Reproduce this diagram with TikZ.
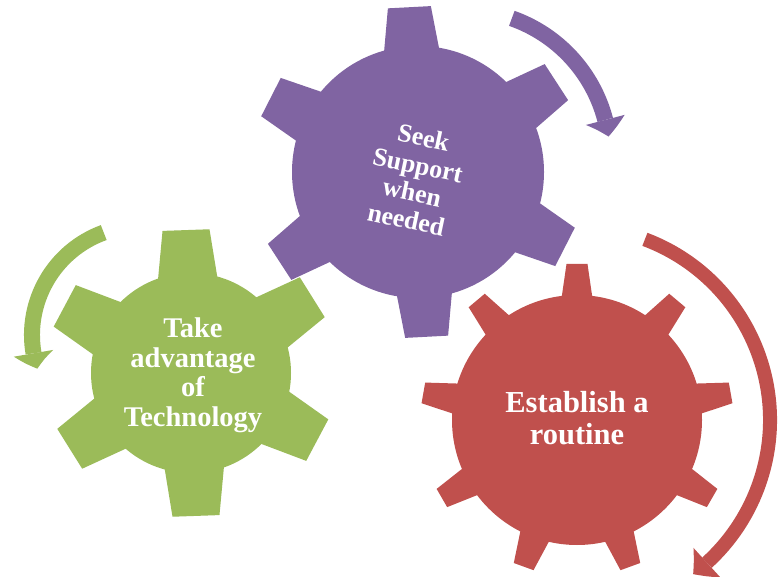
\documentclass[tikz,border=0pt]{standalone}
\usepackage{fontspec}
\setmainfont{Liberation Serif}
\usetikzlibrary{arrows.meta,bending}
\definecolor{gpurple}{HTML}{8064A2}
\definecolor{ggreen}{HTML}{9BBB59}
\definecolor{gred}{HTML}{C0504D}
% #1,#2 centre; #3 body radius; #4 tip radius; #5 teeth; #6 first angle; #7 base half width; #8 tip half width; #9 colour
\newcommand{\gearfill}[9]{%
\begin{scope}[shift={(#1,#2)}]
\fill[#9] (0,0) circle[radius=#3pt];
\foreach \k in {1,...,#5}{
\fill[#9, rotate={#6+360/#5*\k}]
 ({#3-15},{-(#7+(#7-#8)*15/(#4-#3))}) -- (#4,-#8) -- (#4,#8) --
 ({#3-15},{#7+(#7-#8)*15/(#4-#3)}) -- cycle;
}
\end{scope}}
\tikzset{
  geartext/.style={text=white, align=center, inner sep=0pt},
  turnarrow/.style={line cap=butt}
}
\begin{document}
\begin{tikzpicture}[x=1pt,y=1pt]
\useasboundingbox (0,0) rectangle (779,576);
\clip (0,0) rectangle (779,576);
\fill[white] (0,0) rectangle (779,576);

% gears
\gearfill{418}{404}{126}{165}{6}{93}{27}{21.5}{gpurple}
\gearfill{191}{203}{100}{143}{6}{92}{29}{23.5}{ggreen}
\gearfill{577}{156}{125}{156}{9}{90}{15}{10.5}{gred}

% rotation arrows
\draw[turnarrow, gpurple, line width=16pt,
  -{Triangle[width=40pt,length=17pt,line width=0pt,bend]}]
  (463,419) ++(70.6:147pt) arc[start angle=70.6, end angle=8, radius=147pt];
\draw[turnarrow, ggreen, line width=16pt,
  -{Triangle[width=40pt,length=16pt,line width=0pt,bend]}]
  (141,241) ++(110:109pt) arc[start angle=110, end angle=198, radius=109pt];
\draw[turnarrow, gred, line width=14pt,
  -{Triangle[width=40pt,length=18pt,line width=0pt,bend]}]
  (577,156) ++(69.4:193pt) arc[start angle=69.4, end angle=-53, radius=193pt];

% texts
\node[geartext, rotate=-12, font=\bfseries\fontsize{26}{28}\selectfont]
  (seek) at (415,397.5) {Seek\\Support\\when\\needed};
\node[geartext, font=\bfseries\fontsize{28.5}{29.5}\selectfont]
  (tech) at (193,200.5) {Take\\advantage\\of\\Technology};
\node[geartext, font=\bfseries\fontsize{30.5}{32}\selectfont]
  (routine) at (577,158) {Establish a\\routine};
\end{tikzpicture}
\end{document}
